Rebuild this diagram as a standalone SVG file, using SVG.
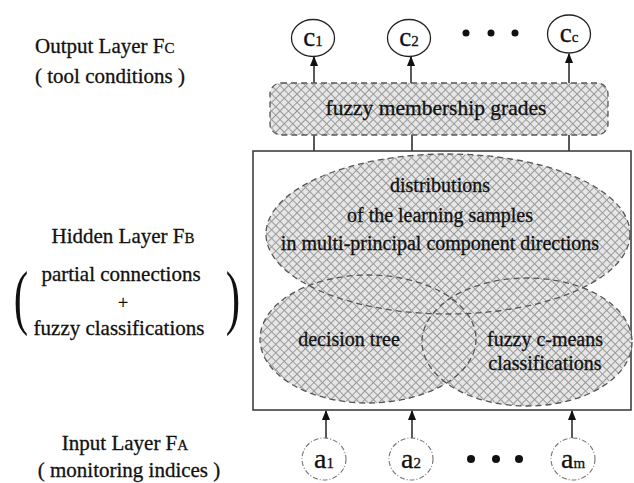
<svg xmlns="http://www.w3.org/2000/svg" width="634" height="483" viewBox="0 0 634 483">
<defs>
<pattern id="hatch" width="6" height="6" patternUnits="userSpaceOnUse" patternTransform="rotate(45)">
<rect width="6" height="6" fill="#e6e6e6"/>
<path d="M0 0.5H6M0.5 0V6" stroke="#9a9a9a" stroke-width="1"/>
</pattern>
<marker id="arr" viewBox="0 0 10 10" refX="9" refY="5" markerWidth="7" markerHeight="7" orient="auto">
<path d="M0 1L10 5L0 9Z" fill="#111"/>
</marker>
<style>
.lbl{font-size:21px}
.in{font-size:20px}
.dash{fill:none;stroke:#555;stroke-width:1.3;stroke-dasharray:6 4}
.hfill{fill:url(#hatch);stroke:none}
.out{fill:#fff;stroke:#222;stroke-width:1.3}
.inp{fill:#fff;stroke:#777;stroke-width:1.1;stroke-dasharray:5 2 1 2}
.con{stroke:#222;stroke-width:1.5;fill:none}
.dot{fill:#111}
text{stroke:#111;stroke-width:0.3}
</style>
</defs>
<rect width="634" height="483" fill="#fff"/>

<g font-family="Liberation Serif, Times New Roman, serif" fill="#111">
<g id="labels">
<text class="lbl" x="35" y="53">Output Layer  F<tspan font-size="15">C</tspan></text>
<text class="lbl" x="35" y="83">( tool conditions )</text>
<text class="lbl" x="123" y="243" text-anchor="middle">Hidden Layer  F<tspan font-size="15">B</tspan></text>
<text class="lbl" x="121" y="281" text-anchor="middle">partial connections</text>
<text x="123" y="309" font-size="18" text-anchor="middle">+</text>
<text class="lbl" x="119" y="335" text-anchor="middle">fuzzy classifications</text>
<text x="21" y="321" font-size="72" text-anchor="middle" style="stroke:none" transform="translate(21 321) scale(0.6 1) translate(-21 -321)">(</text>
<text x="233" y="321" font-size="72" text-anchor="middle" style="stroke:none" transform="translate(233 321) scale(0.6 1) translate(-233 -321)">)</text>
<text class="lbl" x="125" y="450" text-anchor="middle">Input Layer  F<tspan font-size="15">A</tspan></text>
<text class="lbl" x="129" y="477" text-anchor="middle">( monitoring indices )</text>
</g>

<g id="connectors">
<line class="con" x1="314" y1="83" x2="314" y2="57" marker-end="url(#arr)"/>
<line class="con" x1="411" y1="83" x2="411" y2="57" marker-end="url(#arr)"/>
<line class="con" x1="569" y1="83" x2="569" y2="54" marker-end="url(#arr)"/>
<line class="con" x1="314" y1="135" x2="314" y2="151"/>
<line class="con" x1="412" y1="135" x2="412" y2="151"/>
<line class="con" x1="569" y1="135" x2="569" y2="151"/>
<line class="con" x1="326" y1="438" x2="326" y2="411" marker-end="url(#arr)"/>
<line class="con" x1="412" y1="438" x2="412" y2="411" marker-end="url(#arr)"/>
<line class="con" x1="572" y1="438" x2="572" y2="411" stroke-width="1.1" marker-end="url(#arr)"/>
</g>

<g id="output-nodes">
<g id="c1"><ellipse class="out" cx="313" cy="38" rx="21.5" ry="18.5"/><text x="313" y="46" text-anchor="middle"><tspan font-size="27">c</tspan><tspan font-size="15">1</tspan></text></g>
<g id="c2"><ellipse class="out" cx="409" cy="38" rx="21.5" ry="18.5"/><text x="409" y="46" text-anchor="middle"><tspan font-size="27">c</tspan><tspan font-size="15">2</tspan></text></g>
<g id="dots-top"><circle class="dot" cx="466" cy="33" r="3.5"/><circle class="dot" cx="491" cy="33" r="3.5"/><circle class="dot" cx="515" cy="33" r="3.5"/></g>
<g id="cc"><ellipse class="out" cx="569" cy="34" rx="21.5" ry="19"/><text x="569" y="42" text-anchor="middle"><tspan font-size="27">c</tspan><tspan font-size="15">c</tspan></text></g>
</g>

<g id="membership">
<rect x="270" y="83" width="338" height="52" rx="11" class="hfill"/>
<rect x="270" y="83" width="338" height="52" rx="11" class="dash"/>
<text x="436" y="115" font-size="21.5" text-anchor="middle">fuzzy membership grades</text>
</g>

<g id="hidden">
<rect x="253" y="151" width="378" height="259" fill="#fff" stroke="#333" stroke-width="1.5"/>
<ellipse class="hfill" cx="448" cy="234" rx="182" ry="80"/>
<ellipse class="hfill" cx="368" cy="339" rx="108" ry="64"/>
<ellipse class="hfill" cx="527" cy="342" rx="105" ry="64"/>
<ellipse class="dash" cx="448" cy="234" rx="182" ry="80"/>
<ellipse class="dash" cx="368" cy="339" rx="108" ry="64"/>
<ellipse class="dash" cx="527" cy="342" rx="105" ry="64"/>
<g id="distributions">
<text class="in" x="440" y="192" text-anchor="middle">distributions</text>
<text class="in" x="440" y="222" text-anchor="middle">of the learning samples</text>
<text class="in" x="440" y="250" text-anchor="middle">in multi-principal component directions</text>
</g>
<g id="decision-tree"><text class="in" x="349" y="346" text-anchor="middle">decision tree</text></g>
<g id="fcm"><text class="in" x="545" y="346" text-anchor="middle">fuzzy c-means</text><text class="in" x="545" y="370" text-anchor="middle">classifications</text></g>
</g>

<g id="input-nodes">
<g id="a1"><ellipse class="inp" cx="324" cy="459" rx="22" ry="21"/><text x="324" y="468" text-anchor="middle"><tspan font-size="28">a</tspan><tspan font-size="15">1</tspan></text></g>
<g id="a2"><ellipse class="inp" cx="411" cy="459" rx="22" ry="21"/><text x="411" y="468" text-anchor="middle"><tspan font-size="28">a</tspan><tspan font-size="15">2</tspan></text></g>
<g id="dots-bottom"><circle class="dot" cx="471" cy="459" r="4"/><circle class="dot" cx="496" cy="459" r="4"/><circle class="dot" cx="519" cy="459" r="4"/></g>
<g id="am"><ellipse class="inp" cx="573" cy="459" rx="22" ry="21"/><text x="573" y="468" text-anchor="middle"><tspan font-size="28">a</tspan><tspan font-size="15">m</tspan></text></g>
</g>
</g>
</svg>
